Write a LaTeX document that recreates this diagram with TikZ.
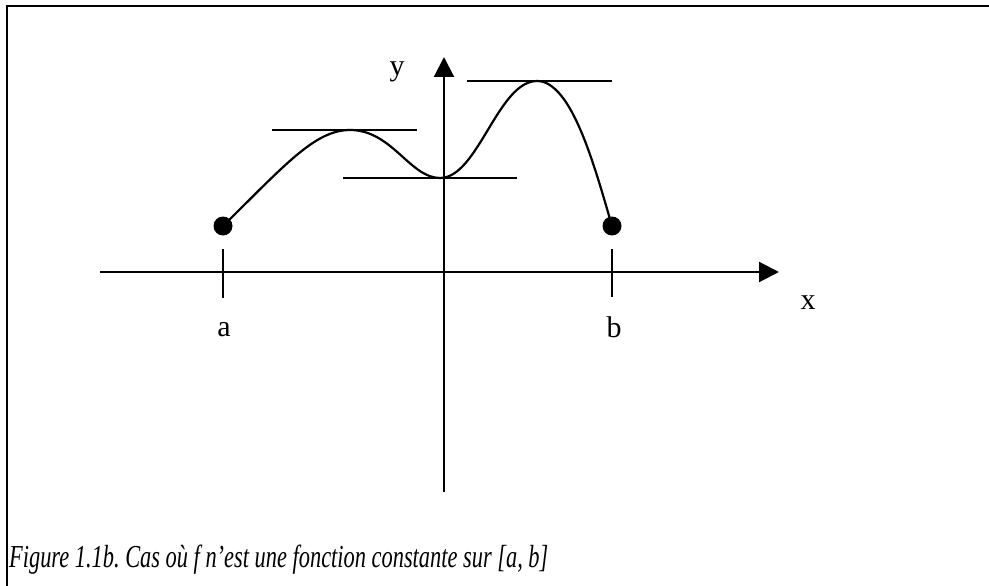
\documentclass[tikz,border=0pt]{standalone}
\usepackage{fontspec}
\setmainfont{Liberation Serif}
\usetikzlibrary{arrows.meta, positioning}
\frenchspacing

\begin{document}
\begin{tikzpicture}[x=1pt, y=-1pt,
    axis/.style={line width=2.2pt, -{Triangle[length=20pt, width=20pt]}},
    tangent/.style={line width=2.2pt},
    dot/.style={circle, fill=black, inner sep=0pt, minimum size=19pt},
    lbl/.style={font=\fontsize{30}{36}\selectfont, inner sep=0pt}]
  \useasboundingbox (0,0) rectangle (989,586);

  % Frame
  \draw[line width=2.8pt] (989,6) -- (7,6) -- (7,586);

  % Axes
  \coordinate (xs) at (100,272);
  \coordinate (xe) at (779,272);
  \coordinate (ys) at (444,492);
  \coordinate (ye) at (444,57);
  \draw[axis] (xs) -- (xe);
  \draw[axis] (ys) -- (ye);
  \node[lbl] (xl) at (808,303) {x};
  \node[lbl] (yl) at (397,72) {y};

  % Endpoints and ticks
  \node[dot] (pa) at (223,226) {};
  \node[dot] (pb) at (612,226) {};
  \draw[tangent] (223,249) -- (223,298);
  \draw[tangent] (612,249) -- (612,297);
  \node[lbl] (la) at (224,330) {a};
  \node[lbl] (lb) at (614,327) {b};

  % Horizontal tangents at the extrema
  \draw[tangent] (272,130) -- (417,130);
  \draw[tangent] (343,178) -- (517,178);
  \draw[tangent] (467,81) -- (612,81);

  % Curve
  \draw[tangent] (pa.center) .. controls (285,165) and (315,130) .. (350,130)
    .. controls (392,130) and (410,178) .. (440,178)
    .. controls (478,178) and (498,81) .. (537,81)
    .. controls (572,81) and (595,168) .. (pb.center);

  % Caption
  \node[lbl, anchor=base west, xscale=0.7, font=\fontsize{32}{38}\selectfont\itshape] (cap) at (9,567)
    {Figure 1.1b. Cas où f n'est une fonction constante sur [a, b]};
\end{tikzpicture}
\end{document}
